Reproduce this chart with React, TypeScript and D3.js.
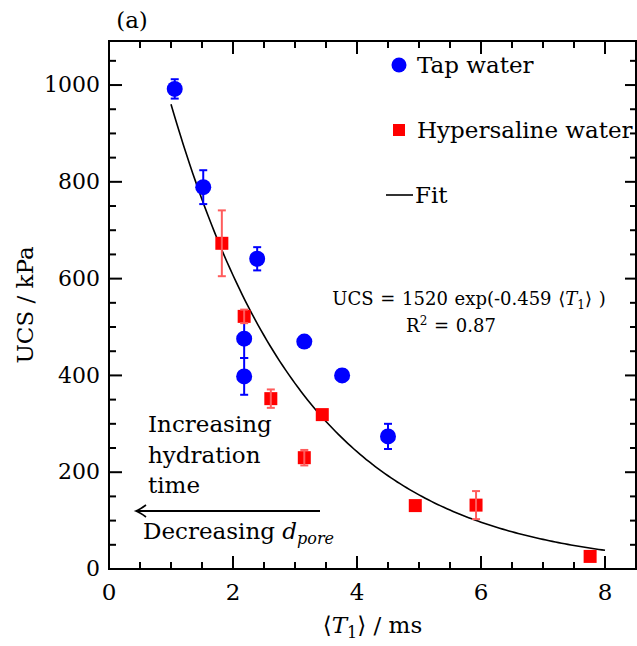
import React, { useEffect, useRef } from 'react';
import * as d3 from 'd3';

// Tap water series
const tapT1 = [1.06, 1.52, 2.39, 2.18, 2.18, 3.15, 3.76, 4.5];
const tapUCS = [992, 789, 641, 476, 398, 470, 400, 274];
const tapErr = [20, 35, 24, 40, 38, 8, 12, 26];

// Hypersaline water series
const hyperT1 = [1.82, 2.18, 2.61, 3.44, 3.15, 4.94, 5.92, 7.76];
const hyperUCS = [673, 522, 352, 319, 230, 131, 132, 26];
const hyperErr = [68, 14, 19, 0, 16, 0, 29, 0];

// exponential fit  UCS = A exp(-B T1)
const fitA = 1520;
const fitB = 0.459;
const fitFrom = 1.0;
const fitTo = 8.0;

const xTicks = [0, 2, 4, 6, 8];
const yTicks = [0, 200, 400, 600, 800, 1000];

const FONT = 'DejaVu Serif';

const App = () => {
  const svgRef = useRef<SVGSVGElement>(null);

  useEffect(() => {
    const svg = d3.select(svgRef.current);
    svg.selectAll('*').remove();

    const left = 109, right = 636, top = 41, bottom = 569;

    const x = d3.scaleLinear().domain([0, 8.5]).range([left, right]);
    const y = d3.scaleLinear().domain([0, 1091]).range([bottom, top]);

    const g = svg.append('g').attr('font-family', FONT);

    // ticks (inward) on all four sides
    const xMinor = d3.range(0.5, 8.5, 0.5).filter(v => !xTicks.includes(v));
    const yMinor = d3.range(50, 1091, 50).filter(v => !yTicks.includes(v));

    const tick = (x1: number, y1: number, x2: number, y2: number) =>
      g.append('line')
        .attr('x1', x1).attr('y1', y1).attr('x2', x2).attr('y2', y2)
        .attr('stroke', 'black').attr('stroke-width', 2);

    xTicks.forEach(v => {
      tick(x(v), bottom, x(v), bottom - 13);
      tick(x(v), top, x(v), top + 13);
    });
    xMinor.forEach(v => {
      tick(x(v), bottom, x(v), bottom - 7);
      tick(x(v), top, x(v), top + 7);
    });
    yTicks.forEach(v => {
      tick(left, y(v), left + 13, y(v));
      tick(right, y(v), right - 11, y(v));
    });
    yMinor.forEach(v => {
      tick(left, y(v), left + 7, y(v));
      tick(right, y(v), right - 6, y(v));
    });

    // frame
    g.append('rect')
      .attr('x', left).attr('y', top)
      .attr('width', right - left).attr('height', bottom - top)
      .attr('fill', 'none').attr('stroke', 'black').attr('stroke-width', 2);

    // tick labels
    g.selectAll('.xl').data(xTicks).enter().append('text')
      .attr('x', d => x(d)).attr('y', 600)
      .attr('text-anchor', 'middle')
      .attr('font-size', 23)
      .text(d => d);
    g.selectAll('.yl').data(yTicks).enter().append('text')
      .attr('x', 100).attr('y', d => y(d))
      .attr('dy', '0.33em')
      .attr('text-anchor', 'end')
      .attr('font-size', 22)
      .text(d => d);

    // axis titles
    const xt = g.append('text')
      .attr('x', (left + right) / 2).attr('y', 633)
      .attr('text-anchor', 'middle')
      .attr('font-size', 23);
    xt.append('tspan').text('\u27E8');
    xt.append('tspan').attr('font-style', 'italic').text('T');
    xt.append('tspan').attr('font-size', 16).attr('dy', 5).text('1');
    xt.append('tspan').attr('dy', -5).text('\u27E9 / ms');

    g.append('text')
      .attr('transform', `translate(33, ${(top + bottom) / 2}) rotate(-90)`)
      .attr('text-anchor', 'middle')
      .attr('font-size', 23)
      .text('UCS / kPa');

    g.append('text')
      .attr('x', 132).attr('y', 28)
      .attr('text-anchor', 'middle')
      .attr('font-size', 23)
      .text('(a)');

    // fit curve
    const fitXs = d3.range(fitFrom, fitTo + 0.001, 0.05);
    const line = d3.line<number>()
      .x(d => x(d))
      .y(d => y(fitA * Math.exp(-fitB * d)));
    g.append('path')
      .datum(fitXs)
      .attr('d', line)
      .attr('fill', 'none').attr('stroke', 'black').attr('stroke-width', 1.6);

    const tap = tapT1.map((t, i) => ({ t, v: tapUCS[i], e: tapErr[i] }));
    const hyper = hyperT1.map((t, i) => ({ t, v: hyperUCS[i], e: hyperErr[i] }));

    const errBars = (data: { t: number; v: number; e: number }[], color: string) => {
      const eb = g.append('g').attr('stroke', color).attr('stroke-width', 2);
      data.filter(d => d.e > 0).forEach(d => {
        eb.append('line')
          .attr('x1', x(d.t)).attr('x2', x(d.t))
          .attr('y1', y(d.v - d.e)).attr('y2', y(d.v + d.e));
        [d.v - d.e, d.v + d.e].forEach(c => {
          eb.append('line')
            .attr('x1', x(d.t) - 4).attr('x2', x(d.t) + 4)
            .attr('y1', y(c)).attr('y2', y(c));
        });
      });
    };

    // tap water markers + error bars
    errBars(tap, '#0000ff');
    g.selectAll('.tap').data(tap).enter().append('circle')
      .attr('cx', d => x(d.t)).attr('cy', d => y(d.v))
      .attr('r', 8).attr('fill', '#0000ff');

    // hypersaline markers, bars drawn on top (lighter red)
    g.selectAll('.hyp').data(hyper).enter().append('rect')
      .attr('x', d => x(d.t) - 6.5).attr('y', d => y(d.v) - 6.5)
      .attr('width', 13).attr('height', 13)
      .attr('fill', '#ff0000');
    errBars(hyper, '#ff5c5c');

    // legend
    const lg = g.append('g').attr('font-size', 23);
    lg.append('circle').attr('cx', 399).attr('cy', 65).attr('r', 7.5).attr('fill', '#0000ff');
    lg.append('text').attr('x', 417).attr('y', 73).text('Tap water');
    lg.append('rect').attr('x', 393).attr('y', 124).attr('width', 12).attr('height', 12).attr('fill', '#ff0000');
    lg.append('text').attr('x', 417).attr('y', 138).text('Hypersaline water');
    lg.append('line').attr('x1', 386).attr('x2', 413).attr('y1', 195).attr('y2', 195)
      .attr('stroke', 'black').attr('stroke-width', 1.6);
    lg.append('text').attr('x', 415).attr('y', 203).text('Fit');

    // fit annotation
    const ft = g.append('text')
      .attr('x', 469).attr('y', 305)
      .attr('text-anchor', 'middle')
      .attr('font-size', 18)
      .attr('word-spacing', 1);
    ft.append('tspan').text('UCS = 1520 exp(-0.459 \u27E8');
    ft.append('tspan').attr('font-style', 'italic').text('T');
    ft.append('tspan').attr('font-size', 12).attr('dy', 4).text('1');
    ft.append('tspan').attr('dy', -4).text('\u27E9 )');

    const r2 = g.append('text')
      .attr('x', 451).attr('y', 332)
      .attr('text-anchor', 'middle')
      .attr('font-size', 18)
      .attr('word-spacing', 1);
    r2.append('tspan').text('R');
    r2.append('tspan').attr('font-size', 12).attr('dy', -7).text('2');
    r2.append('tspan').attr('dy', 7).text(' = 0.87');

    // hydration annotation
    const ann = g.append('g').attr('font-size', 23);
    ['Increasing', 'hydration', 'time'].forEach((s, i) => {
      ann.append('text').attr('x', 148).attr('y', 432 + i * 30.5).text(s);
    });
    ann.append('line')
      .attr('x1', 320).attr('x2', 137).attr('y1', 511).attr('y2', 511)
      .attr('stroke', 'black').attr('stroke-width', 2.2);
    ann.append('path')
      .attr('d', 'M146,505 Q140,509.5 136,511 Q140,512.5 146,517')
      .attr('fill', 'none').attr('stroke', 'black').attr('stroke-width', 1.6);
    const dt = ann.append('text').attr('x', 143).attr('y', 539);
    dt.append('tspan').text('Decreasing ');
    dt.append('tspan').attr('font-style', 'italic').text('d');
    dt.append('tspan').attr('font-style', 'italic').attr('font-size', 16).attr('dy', 5).text('pore');
  }, []);

  return (
    <svg
      ref={svgRef}
      width={637}
      height={646}
      style={{ position: 'absolute', left: 0, top: 0, background: 'white' }}
    />
  );
};

export default App;
